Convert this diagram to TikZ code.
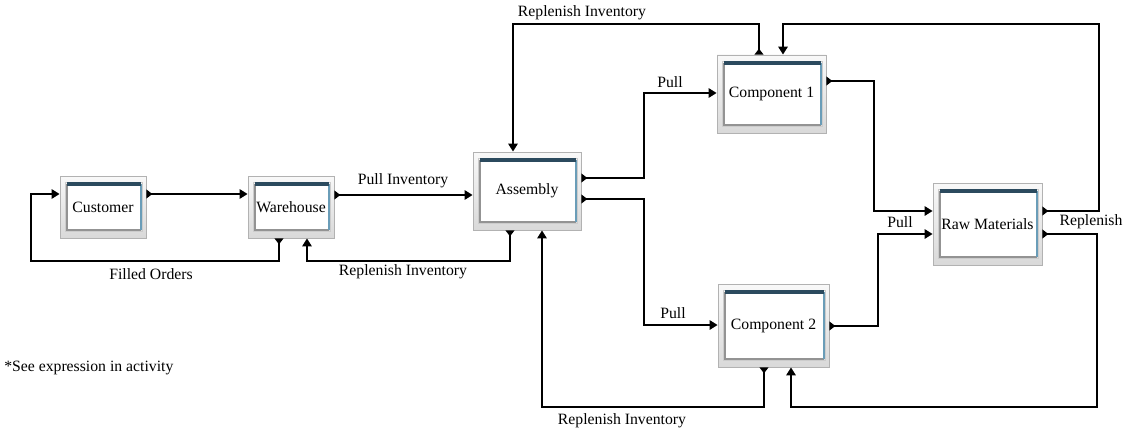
\documentclass[tikz,border=0pt]{standalone}
\usepackage{fontspec}
\setmainfont{Liberation Serif}
\usetikzlibrary{arrows.meta}
\definecolor{topc}{HTML}{2B4A5E}
\definecolor{sidec}{HTML}{6A9DB8}
\tikzset{
  blk/.style={rectangle, draw=gray!60, line width=0.6pt, top color=gray!5, bottom color=gray!30,
    inner sep=0pt, font=\fontsize{11.8}{13}\selectfont,
    path picture={
      \path (path picture bounding box.north west) coordinate (pnw)
            (path picture bounding box.south east) coordinate (pse);
      \coordinate (pa) at ([xshift=5.25pt,yshift=-6pt]pnw);
      \coordinate (pb) at ([xshift=-3.75pt,yshift=6pt]pse);
      \draw[gray!40, line width=0.5pt] ([xshift=-1.2pt,yshift=1.2pt]pa) rectangle ([xshift=1.2pt,yshift=-1.2pt]pb);
      \fill[white] (pa) rectangle (pb);
      \draw[gray!85, line width=1.5pt] (pa) |- (pb);
      \draw[sidec, line width=2.2pt] (pa -| pb) -- (pb);
      \draw[topc, line width=2.4pt] (pa) -- (pa -| pb);
    }},
  flow/.style={line width=1.8pt, {Triangle[reversed,length=4.5pt,width=6.5pt]}-{Triangle[length=6pt,width=7pt]}},
  lbl/.style={font=\fontsize{11.8}{13}\selectfont, inner sep=0pt}
}
\begin{document}
\begin{tikzpicture}[x=0.75pt,y=-0.75pt]
\useasboundingbox[fill=white] (0,0) rectangle (1132,435);
% blocks
\node[blk, minimum width=64.5pt, minimum height=46.5pt] (cust) at (103,207) {Customer};
\node[blk, minimum width=64.5pt, minimum height=46.5pt] (wh) at (291,207) {Warehouse};
\node[blk, minimum width=81pt, minimum height=58.5pt] (asm) at (527,191) {Assembly};
\node[blk, minimum width=81.75pt, minimum height=58.5pt] (c1) at (771.5,94) {Component 1};
\node[blk, minimum width=83.25pt, minimum height=62.25pt] (c2) at (773.5,325.5) {Component 2};
\node[blk, minimum width=81.75pt, minimum height=61.5pt] (raw) at (987.5,224) {Raw Materials};
% connectors
\draw[flow] (cust.east |- 0,194) -- (wh.west |- 0,194);
\draw[flow] (wh.south -| 279,0) -- (279,261) -- (31,261) -- (31,194) -- (cust.west |- 0,194);
\draw[flow] (wh.east |- 0,195) -- (asm.west |- 0,195);
\draw[flow] (asm.south -| 510,0) -- (510,261) -- (307,261) -- (wh.south -| 307,0);
\draw[flow] (asm.east |- 0,178) -- (644,178) -- (644,93) -- (c1.west |- 0,93);
\draw[flow] (asm.east |- 0,199) -- (644,199) -- (644,325) -- (c2.west |- 0,325);
\draw[flow] (c1.north -| 759,0) -- (759,24) -- (513,24) -- (asm.north -| 513,0);
\draw[flow] (raw.east |- 0,211) -- (1099,211) -- (1099,24) -- (783,24) -- (c1.north -| 783,0);
\draw[flow] (c1.east |- 0,81) -- (874,81) -- (874,211) -- (raw.west |- 0,211);
\draw[flow] (c2.east |- 0,326) -- (878,326) -- (878,234) -- (raw.west |- 0,234);
\draw[flow] (raw.east |- 0,234) -- (1097,234) -- (1097,407) -- (791,407) -- (c2.south -| 791,0);
\draw[flow] (c2.south -| 764,0) -- (764,407) -- (542,407) -- (asm.south -| 542,0);
% labels
\node[lbl] (l1) at (151,274) {Filled Orders};
\node[lbl] (l2) at (403,181) {Pull Inventory};
\node[lbl] (l3) at (403,272) {Replenish Inventory};
\node[lbl] (l4) at (582,13) {Replenish Inventory};
\node[lbl] (l5) at (670,82) {Pull};
\node[lbl] (l6) at (673,313) {Pull};
\node[lbl] (l7) at (900,222) {Pull};
\node[lbl] (l8) at (1091,222) {Replenish};
\node[lbl] (l9) at (622,421) {Replenish Inventory};
\node[lbl, anchor=west] (note) at (4,368) {*See expression in activity};
\end{tikzpicture}
\end{document}
